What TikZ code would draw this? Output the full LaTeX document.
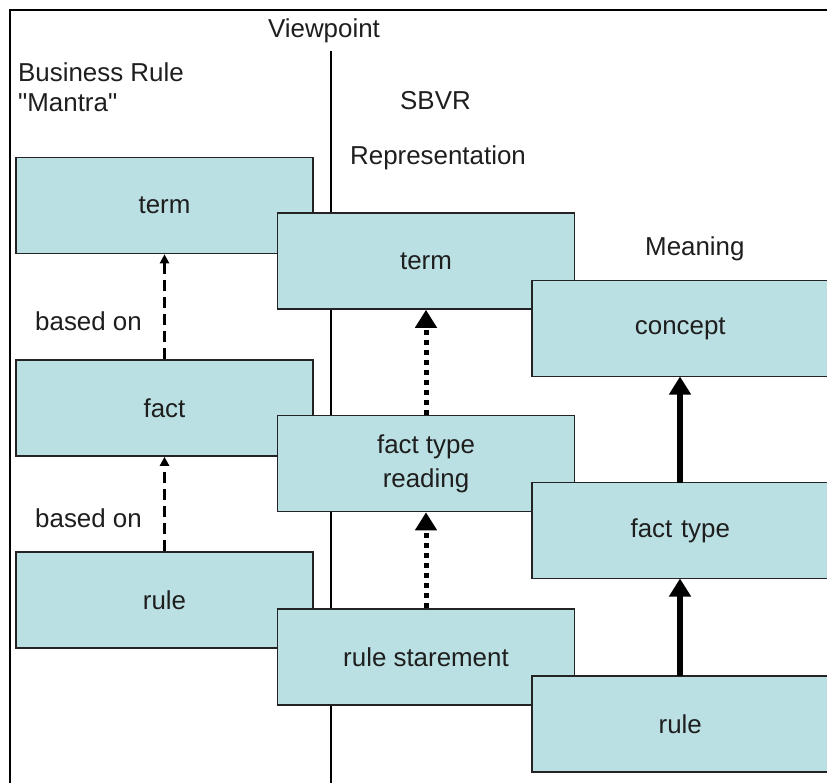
\documentclass[tikz,border=0pt]{standalone}
\usepackage{fontspec}
\setmainfont{Liberation Sans}[Ligatures=TeXOff]
\usetikzlibrary{arrows.meta}
\definecolor{boxfill}{RGB}{187,224,227}
\definecolor{edge}{RGB}{35,35,35}
\definecolor{ink}{RGB}{30,30,30}

\begin{document}
\begin{tikzpicture}[x=1bp,y=-1bp,
  every node/.style={font=\fontsize{26}{34}\selectfont, text=ink},
  cbox/.style={draw=edge, line width=1.6bp, fill=boxfill, minimum width=297bp,
               minimum height=96bp, inner sep=0pt, align=center},
  widebox/.style={cbox, minimum width=320bp, text width=297bp},
  headtext/.style={anchor=west, inner sep=0pt},
  basedon/.style={-{Triangle[width=9bp,length=9bp]}, line width=2.4bp,
                  dash pattern=on 11bp off 6bp},
  readsas/.style={-{Triangle[width=21bp,length=18bp]}, line width=5bp,
                  dash pattern=on 5bp off 5bp},
  means/.style={-{Triangle[width=21bp,length=18bp]}, line width=6bp},
]
\useasboundingbox (0,0) rectangle (827,783);
\clip (0,0) rectangle (827,783);
\fill[white] (-5,-5) rectangle (840,790);

% frame and viewpoint divider
\draw[line width=2bp] (10,790) -- (10,10) -- (840,10);
\draw[line width=1.6bp] (331,51) -- (331,790);

% headings
\node[anchor=center, inner sep=0pt] (vp) at (324,31) {Viewpoint};
\node[headtext] (br1) at (18,72) {Business Rule};
\node[headtext] (br2) at (18,103) {"Mantra"};
\node[headtext] (sbvr) at (400,101) {SBVR};
\node[headtext] (repr) at (350,158) {Representation};
\node[headtext] (mean) at (645,249) {Meaning};

% business rule mantra column
\node[cbox] (lterm) at (164.5,205.5) {term};
\node[cbox] (lfact) at (164.5,408) {fact};
\node[cbox] (lrule) at (164.5,600) {rule};
\draw[basedon] (lfact.north) -- (lterm.south);
\draw[basedon] (lrule.north) -- (lfact.south);
\node[headtext] (bo1) at (35,321) {based on};
\node[headtext] (bo2) at (35,518) {based on};

% representation column
\node[cbox] (mterm) at (426,261) {term};
\node[cbox] (mftr) at (426,463.5) {fact type\\reading};
\node[cbox] (mrule) at (426,657) {rule starement};
\draw[readsas] (mftr.north) -- (mterm.south);
\draw[readsas] (mrule.north) -- (mftr.south);

% meaning column: boxes run on past the right edge
\node[widebox, anchor=west] (concept) at (531,328.5) {concept\hspace*{23bp}};
\node[widebox, anchor=west] (ftype) at (531,530.5) {fact type\hspace*{23bp}};
\node[widebox, anchor=west] (rrule) at (531,724) {rule\hspace*{23bp}};
\coordinate (ctop) at (680,376.5);
\coordinate (fbot) at (680,482.5);
\coordinate (ftop) at (680,578.5);
\coordinate (rbot) at (680,676);
\draw[means] (fbot) -- (ctop);
\draw[means] (rbot) -- (ftop);
\end{tikzpicture}
\end{document}
